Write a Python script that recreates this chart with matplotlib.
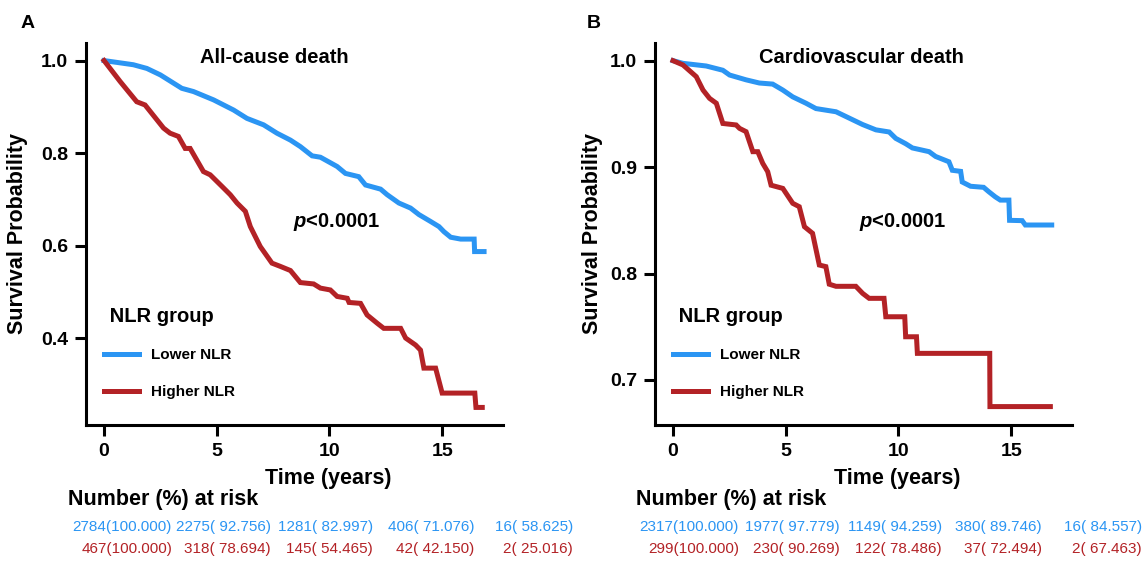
import matplotlib
matplotlib.use("Agg")
import matplotlib.pyplot as plt
from matplotlib.ticker import FormatStrFormatter

plt.rcParams['font.family'] = ['Liberation Sans', 'DejaVu Sans']
plt.rcParams['mathtext.fontset'] = 'custom'
plt.rcParams['mathtext.it'] = 'Liberation Sans:italic:bold'
plt.rcParams['mathtext.rm'] = 'Liberation Sans:bold'

BLUE = '#2b95f3'
RED = '#b32226'

# ---- panel A : all-cause death
a_low_t = [0, 1.3, 1.9, 2.5, 3.45, 3.97, 4.86, 5.75, 6.34, 7.08, 7.67, 8.27, 8.71, 9.23, 9.6,
           10.34, 10.71, 11.3, 11.6, 12.27, 12.56, 13.08, 13.6, 13.97, 14.49, 14.86, 15.08,
           15.38, 15.82, 16.42, 16.44, 16.86]
a_low_s = [1.0, 0.991, 0.983, 0.969, 0.940, 0.933, 0.915, 0.893, 0.875, 0.861, 0.843, 0.828,
           0.814, 0.794, 0.791, 0.771, 0.756, 0.749, 0.731, 0.722, 0.710, 0.692, 0.681, 0.667,
           0.652, 0.641, 0.630, 0.618, 0.614, 0.614, 0.587, 0.587]
a_high_t = [0, 0.71, 1.45, 1.82, 2.64, 2.93, 3.3, 3.6, 3.82, 4.41, 4.71, 5.23, 5.6, 5.9, 6.27,
            6.49, 6.93, 7.45, 7.82, 8.27, 8.71, 9.3, 9.6, 10.04, 10.34, 10.79, 10.87, 11.38,
            11.67, 12.12, 12.41, 13.16, 13.38, 13.82, 14.04, 14.19, 14.71, 15.0, 16.45, 16.5,
            16.78]
a_high_s = [1.0, 0.955, 0.911, 0.904, 0.854, 0.843, 0.836, 0.810, 0.810, 0.760, 0.753, 0.728,
            0.710, 0.692, 0.674, 0.641, 0.598, 0.562, 0.555, 0.546, 0.520, 0.517, 0.508, 0.504,
            0.490, 0.486, 0.477, 0.475, 0.450, 0.432, 0.421, 0.421, 0.400, 0.385, 0.374, 0.335,
            0.335, 0.281, 0.281, 0.250, 0.250]

# ---- panel B : cardiovascular death
b_low_t = [0, 0.44, 1.47, 2.21, 2.51, 3.24, 3.83, 4.42, 4.87, 5.31, 5.9, 6.34, 7.23, 7.82,
           8.41, 9.0, 9.59, 9.88, 10.32, 10.62, 11.36, 11.65, 12.24, 12.39, 12.76, 12.83, 13.2,
           13.78, 14.0, 14.3, 14.52, 14.9, 14.93, 15.49, 15.63, 16.8]
b_low_s = [1.0, 0.9975, 0.995, 0.991, 0.9865, 0.982, 0.979, 0.978, 0.9724, 0.966, 0.960,
           0.955, 0.952, 0.946, 0.940, 0.935, 0.933, 0.927, 0.922, 0.918, 0.9145, 0.910, 0.905,
           0.897, 0.896, 0.886, 0.882, 0.881, 0.877, 0.872, 0.869, 0.869, 0.850, 0.8497, 0.8456,
           0.8456]
b_high_t = [0, 0.44, 1.03, 1.33, 1.62, 1.92, 2.21, 2.8, 2.95, 3.24, 3.54, 3.76, 3.98, 4.2,
            4.35, 4.87, 5.31, 5.6, 5.83, 6.19, 6.49, 6.78, 6.93, 7.23, 8.11, 8.41, 8.7, 9.36,
            9.44, 10.28, 10.32, 10.8, 10.84, 14.05, 14.06, 16.74]
b_high_s = [1.0, 0.996, 0.985, 0.9724, 0.9646, 0.960, 0.941, 0.9396, 0.9364, 0.9333, 0.9145,
            0.9145, 0.9035, 0.8957, 0.883, 0.880, 0.866, 0.8628, 0.844, 0.8378, 0.808, 0.8065,
            0.790, 0.788, 0.788, 0.7814, 0.7767, 0.7767, 0.7594, 0.7594, 0.7406, 0.7406, 0.725,
            0.725, 0.675, 0.675]

# number (%) at risk
a_risk_low = ['2784(100.000)', '2275( 92.756)', '1281( 82.997)', '406( 71.076)', '16( 58.625)']
a_risk_high = ['467(100.000)', '318( 78.694)', '145( 54.465)', '42( 42.150)', '2( 25.016)']
b_risk_low = ['2317(100.000)', '1977( 97.779)', '1149( 94.259)', '380( 89.746)', '16( 84.557)']
b_risk_high = ['299(100.000)', '230( 90.269)', '122( 78.486)', '37( 72.494)', '2( 67.463)']

W, H = 1146, 561
fig = plt.figure(figsize=(W / 100, H / 100), dpi=100)


def panel(left, ylim, yticks, low, high, title, title_x, p_xy, letter, letter_x, ylab_x):
    ax = fig.add_axes([left / W, (H - 425) / H, 417 / W, 382 / H])
    ax.plot(low[0], low[1], color=BLUE, lw=3.6, label='Lower NLR', solid_joinstyle='miter')
    ax.plot(high[0], high[1], color=RED, lw=3.6, label='Higher NLR', solid_joinstyle='miter')
    ax.set_xlim(-0.8, 17.7)
    ax.set_ylim(*ylim)
    ax.set_xticks([0, 5, 10, 15])
    ax.set_yticks(yticks)
    ax.yaxis.set_major_formatter(FormatStrFormatter('%.1f'))
    for s in ['top', 'right']:
        ax.spines[s].set_visible(False)
    for s in ['left', 'bottom']:
        ax.spines[s].set_linewidth(2.2)
    ax.tick_params(width=2.2, length=8, labelsize=14, pad=5)
    for lab in ax.get_xticklabels() + ax.get_yticklabels():
        lab.set_fontweight('bold')
    ax.set_ylabel('Survival Probability', fontsize=15.5, fontweight='bold')
    ax.yaxis.set_label_coords(ylab_x, 0.5)
    ax.set_xlabel('Time (years)', fontsize=15.5, fontweight='bold')
    ax.xaxis.set_label_coords(0.58, -0.112)
    ax.text(title_x, 0.961, title, transform=ax.transAxes, ha='center', va='center',
            fontsize=14.5, fontweight='bold')
    ax.text(p_xy[0], p_xy[1], '$p$<0.0001', ha='left', va='center', fontsize=14.5,
            fontweight='bold')
    ax.legend(loc='upper left', bbox_to_anchor=(0.043, 0.31), frameon=False,
              title=' NLR group', alignment='left', borderpad=0, borderaxespad=0,
              handlelength=2.3, handletextpad=0.75, labelspacing=1.5,
              prop={'size': 11, 'weight': 'bold'},
              title_fontproperties={'size': 14.5, 'weight': 'bold'})
    fig.text(letter_x / W, 1 - 23 / H, letter, fontsize=14, fontweight='bold',
             ha='center', va='center')
    return ax


panel(86, (0.212, 1.038), [0.4, 0.6, 0.8, 1.0], (a_low_t, a_low_s), (a_high_t, a_high_s),
      'All-cause death', 0.452, (8.4, 0.651), 'A', 28, -0.139)
panel(655, (0.6577, 1.0166), [0.7, 0.8, 0.9, 1.0], (b_low_t, b_low_s), (b_high_t, b_high_s),
      'Cardiovascular death', 0.494, (8.27, 0.848), 'B', 594, -0.125)

# risk tables
for x0, ends, low, high in [(68, [172, 271, 373, 474, 573], a_risk_low, a_risk_high),
                            (636, [739, 840, 942, 1042, 1142], b_risk_low, b_risk_high)]:
    fig.text(x0 / W, 1 - 500 / H, 'Number (%) at risk', fontsize=15.5, fontweight='bold',
             ha='left', va='center')
    for xe, lo, hi in zip(ends, low, high):
        fig.text(xe / W, 1 - 527 / H, lo, color=BLUE, fontsize=11, ha='right', va='center')
        fig.text(xe / W, 1 - 549 / H, hi, color=RED, fontsize=11, ha='right', va='center')

fig.savefig('out.png', dpi=100)
